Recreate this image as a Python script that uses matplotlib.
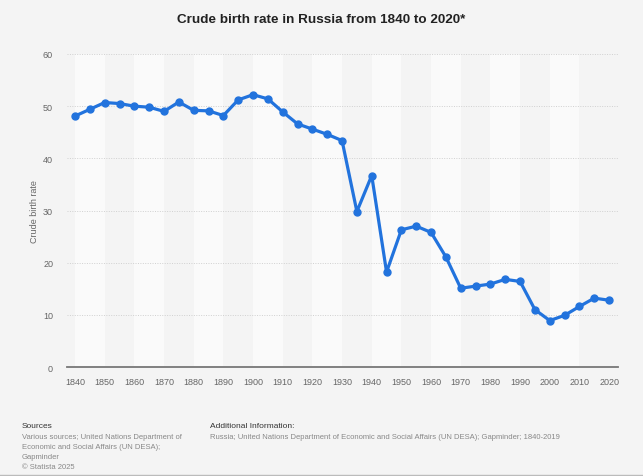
import matplotlib.pyplot as plt

plt.rcParams["font.family"] = ["Liberation Sans", "DejaVu Sans"]

# data (5-year steps)
years = [1840, 1845, 1850, 1855, 1860, 1865, 1870, 1875, 1880, 1885,
         1890, 1895, 1900, 1905, 1910, 1915, 1920, 1925, 1930, 1935,
         1940, 1945, 1950, 1955, 1960, 1965, 1970, 1975, 1980, 1985,
         1990, 1995, 2000, 2005, 2010, 2015, 2020]
birth_rate = [48.1, 49.4, 50.7, 50.5, 50.0, 49.8, 49.0, 50.8, 49.2, 49.1,
              48.2, 51.2, 52.2, 51.4, 48.9, 46.6, 45.6, 44.6, 43.4, 29.8,
              36.7, 18.2, 26.3, 27.0, 25.8, 21.1, 15.1, 15.5, 15.9, 16.8,
              16.4, 11.0, 8.9, 9.9, 11.6, 13.2, 12.8]
x_ticks = list(range(1840, 2021, 10))
y_ticks = [0, 10, 20, 30, 40, 50, 60]

bg = "#f4f4f4"
blue = "#2273dd"
grey = "#666666"

fig = plt.figure(figsize=(6.43, 4.77), dpi=100, facecolor=bg)
ax = fig.add_axes([0.1042, 0.2285, 0.8569, 0.6562])
ax.set_facecolor(bg)

# alternating light bands between decade ticks
for i in range(0, len(x_ticks) - 1, 2):
    ax.axvspan(x_ticks[i], x_ticks[i + 1], color="#fafafa", zorder=0, lw=0)

for v in y_ticks[1:]:
    ax.axhline(v, color="#d0d0d0", lw=0.7, ls=(0, (1, 1.5)), zorder=1)

ax.plot(years, birth_rate, color=blue, lw=2.3, marker="o", ms=5,
        zorder=3, solid_joinstyle="round")

ax.set_xlim(1837.3, 2023)
ax.set_ylim(0, 60)
ax.set_xticks(x_ticks)
ax.set_yticks(y_ticks)
ax.tick_params(length=0, labelsize=6.5, labelcolor=grey)
ax.tick_params(axis="x", pad=7)
ax.tick_params(axis="y", pad=10)
for s in ["top", "right", "left"]:
    ax.spines[s].set_visible(False)
ax.spines["bottom"].set_color("#777777")
ax.spines["bottom"].set_linewidth(1.3)
ax.set_ylabel("Crude birth rate", fontsize=6.5, color=grey, labelpad=3)

fig.text(0.5, 0.958, "Crude birth rate in Russia from 1840 to 2020*",
         ha="center", va="center", fontsize=9.7, fontweight="bold", color="#222222")

fig.text(0.034, 0.105, "Sources", fontsize=6, color="#333333", va="center")
fig.text(0.034, 0.091,
         "Various sources; United Nations Department of\n"
         "Economic and Social Affairs (UN DESA);\nGapminder\n\u00a9 Statista 2025",
         fontsize=5.5, color="#888888", va="top", linespacing=1.65)
fig.text(0.326, 0.105, "Additional Information:", fontsize=6, color="#333333", va="center")
fig.text(0.326, 0.091,
         "Russia; United Nations Department of Economic and Social Affairs (UN DESA); Gapminder; 1840-2019",
         fontsize=5.5, color="#888888", va="top")

fig.add_artist(plt.Line2D([0, 1], [0.002, 0.002], color="#bbbbbb", lw=1))

fig.savefig("out.png", dpi=100, facecolor=bg)
